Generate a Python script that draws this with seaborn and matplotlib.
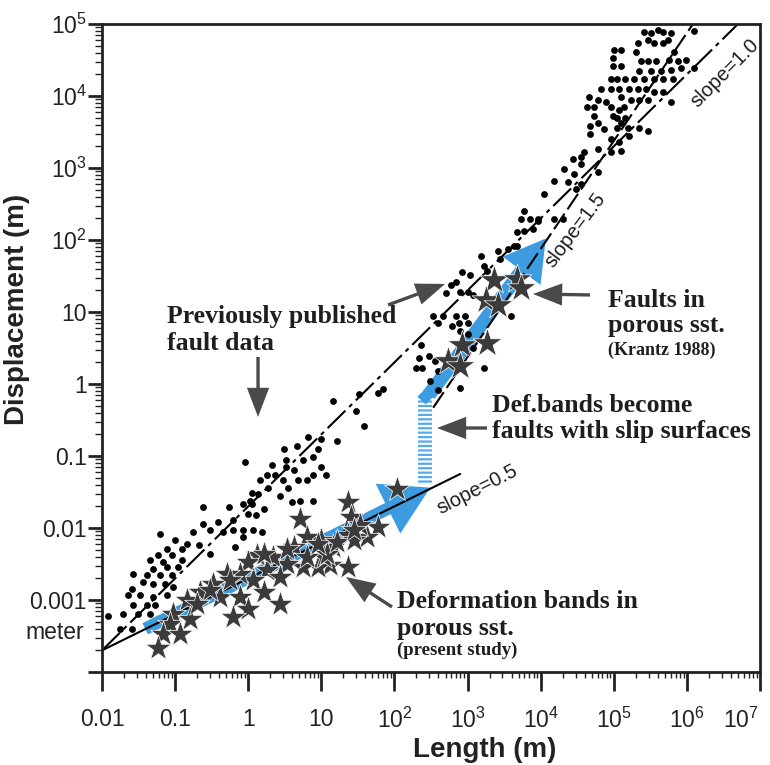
import numpy as np
import pandas as pd
import seaborn as sns
import matplotlib.pyplot as plt
import matplotlib.transforms as mtransforms
from matplotlib.ticker import FixedLocator, LogLocator, NullFormatter

# values, stored as log10(metres)
small_fault_logL = [1.16, 1.52, 1.78, 1.85, 1.47, 1.58, 1.22, 0.82, 0.99, 0.95, 0.67, 0.49,
                    0.51, 0.75, 0.89, 0.99, 1.07, 0.89, 0.81, 0.68, 0.62, 0.51, 0.33, -0.04,
                    0.37, 0.26, 0.16, 0.47, 0.55, 0.44, 0.27, 0.05, 0.14, -0.07, 0.05, 0.03,
                    0.21, 0.10, -0.01, -0.21, -0.27, -0.62, -0.42, -0.62, -0.75, -0.52, -0.34,
                    -0.21, -0.07, 0.07, 0.19, 0.60, 0.71, 0.88, -0.52, -0.18, -0.07, -1.21,
                    -1.00, -0.84, -0.68, -1.11, -0.90, -1.23, -1.04, -0.90, -1.16, -1.34,
                    -1.30, -1.11, -0.96, -1.58, -1.38, -1.21, -1.04, -1.44, -1.30, -1.14,
                    -1.03, -1.59, -1.48, -1.30, -1.11, -1.64, -1.38, -1.27, -1.58, -1.71,
                    -1.51, -1.34, -1.92, -1.75, -1.59]
small_fault_logD = [-0.24, -0.14, -0.12, -0.07, -0.37, -0.58, -0.79, -0.73, -0.76, -0.91, -0.86,
                    -0.91, -1.05, -1.05, -1.01, -1.16, -1.27, -1.27, -1.34, -1.34, -1.19, -1.16,
                    -1.12, -1.09, -1.26, -1.26, -1.34, -1.33, -1.44, -1.55, -1.44, -1.51, -1.53,
                    -1.67, -1.67, -1.62, -1.74, -1.82, -1.81, -1.89, -1.71, -1.71, -1.92, -1.95,
                    -2.06, -2.03, -2.06, -2.03, -2.03, -2.03, -2.06, -1.64, -1.62, -1.62, -2.36,
                    -2.27, -2.13, -2.09, -2.17, -2.22, -2.24, -2.29, -2.29, -2.38, -2.38, -2.44,
                    -2.47, -2.44, -2.57, -2.54, -2.54, -2.64, -2.65, -2.65, -2.65, -2.75, -2.78,
                    -2.78, -2.82, -2.85, -2.93, -2.96, -2.93, -2.93, -3.07, -3.07, -3.07, -3.20,
                    -3.20, -3.19, -3.22, -3.41, -3.41]

large_fault_logL = [5.41, 5.51, 5.60, 5.68, 5.78, 6.10, 5.47, 5.33, 5.55, 5.67, 5.74, 5.82, 5.75,
                    5.88, 5.99, 5.00, 5.10, 5.30, 4.99, 4.99, 5.10, 5.37, 5.47, 5.58, 5.34, 5.51,
                    5.64, 5.78, 5.92, 6.10, 4.96, 5.05, 5.16, 5.27, 5.41, 5.55, 5.68, 5.81, 4.82,
                    4.96, 5.07, 5.21, 5.33, 5.44, 5.55, 5.68, 4.66, 4.78, 4.89, 5.10, 5.23, 5.34,
                    5.47, 5.78, 4.64, 4.73, 4.96, 5.07, 5.14, 4.73, 4.99, 5.05, 5.16, 4.78, 5.10,
                    4.68, 4.86, 5.05, 5.19, 5.34, 5.47, 4.68, 5.21, 4.96, 4.79, 4.96, 5.10, 5.07,
                    4.78, 4.55, 4.44, 4.55, 4.59, 4.32, 4.45, 4.55, 4.18, 4.37, 4.48, 4.04, 3.77,
                    3.73, 3.86, 3.96, 3.68, 3.77, 3.90, 3.97, 4.18, 4.30, 3.68, 3.41, 3.55, 3.63,
                    3.45, 3.18, 3.22, 3.27, 2.93, 3.04, 2.84, 2.90, 3.00, 3.07, 2.70, 2.77, 2.53,
                    2.59, 2.66, 2.84, 2.97, 2.88, 3.01, 2.79, 2.90, 3.01, 3.07, 2.93, 2.36, 2.33,
                    2.47, 2.56, 2.29, 2.38, 3.22, 3.59, 2.60, 2.49, 2.59, 2.90]
large_fault_logD = [4.89, 4.88, 4.92, 4.89, 4.88, 4.90, 4.78, 4.74, 4.74, 4.74, 4.78, 4.61, 4.50,
                    4.48, 4.50, 4.64, 4.64, 4.61, 4.53, 4.41, 4.41, 4.48, 4.48, 4.48, 4.34, 4.34,
                    4.34, 4.36, 4.39, 4.39, 4.23, 4.23, 4.23, 4.23, 4.23, 4.23, 4.23, 4.23, 4.09,
                    4.09, 4.09, 4.09, 4.09, 4.09, 4.06, 4.06, 3.99, 3.95, 3.92, 3.98, 3.95, 3.95,
                    3.95, 3.92, 3.85, 3.84, 3.84, 3.81, 3.85, 3.72, 3.72, 3.70, 3.70, 3.63, 3.63,
                    3.58, 3.54, 3.56, 3.56, 3.56, 3.51, 3.47, 3.44, 3.40, 3.26, 3.22, 3.23, 3.36,
                    2.94, 3.05, 3.12, 3.15, 3.22, 2.98, 2.91, 2.78, 2.82, 2.80, 2.71, 2.64, 2.40,
                    2.29, 2.29, 2.27, 2.11, 2.13, 2.15, 2.29, 2.29, 2.29, 1.92, 1.84, 1.88, 1.91,
                    1.74, 1.78, 1.64, 1.57, 1.56, 1.51, 1.42, 1.28, 1.28, 1.23, 1.26, 1.37, 0.94,
                    0.84, 0.94, 0.94, 0.94, 0.84, 0.84, 0.80, 0.73, 0.70, 0.50, 0.57, 0.54, 0.36,
                    0.39, 0.32, 0.22, 0.22, 0.22, 0.94, 0.18, 0.04, -0.08, -0.06]

band_logL = [2.04, 1.37, 0.71, 1.40, 1.77, 1.63, 1.36, 0.99, 0.81, 0.62, 1.16, 1.36, 1.12, 0.95,
             0.75, 0.53, 0.34, 0.12, -0.01, 0.26, 0.44, 0.07, -0.11, -0.29, -0.48, -0.66, -0.38,
             -0.11, 0.21, 0.44, -0.01, -0.21, -0.84, -1.03, -0.79, -1.07, -1.16, -0.93, -1.23,
             1.03, 1.44, 1.53, 0.21, 0.53, 0.81, 1.08, 0.95, 1.22, 1.44, -0.25, -0.52, -0.70]
band_logD = [-1.46, -1.64, -1.88, -1.85, -1.99, -2.13, -2.10, -2.17, -2.13, -2.27, -2.27, -2.54,
             -2.51, -2.54, -2.54, -2.50, -2.40, -2.38, -2.47, -2.58, -2.68, -2.72, -2.64, -2.64,
             -2.78, -2.89, -2.96, -2.96, -2.89, -3.05, -3.12, -3.23, -3.00, -3.19, -3.27, -3.33,
             -3.47, -3.47, -3.67, -2.40, -2.17, -1.96, -2.36, -2.29, -2.40, -2.36, -2.22, -2.20,
             -2.03, -2.72, -2.86, -3.05]

krantz_logL = [3.36, 3.68, 3.73, 3.25, 3.42, 2.93, 3.27, 2.73, 2.90]
krantz_logD = [1.44, 1.46, 1.33, 1.16, 1.09, 0.54, 0.57, 0.32, 0.25]

# reference power laws D = c * L^n  (log10 c, exponent, log10 L range)
laws = {"slope=1.0": (-1.70, 1.0, (-2.0, 6.75)),
        "slope=1.5": (-4.125, 1.5, (2.53, 6.2)),
        "slope=0.5": (-2.70, 0.5, (-2.0, 2.90))}

# trend arrows of the deformation history (log10 L, log10 D)
band_trend = [(-1.41, -3.40), (2.49, -1.44)]
jump_logL = 2.42
jump_logD = [-0.17, -1.41]
fault_trend = [(2.47, -0.15), (4.07, 2.02)]

x_ticks = [0.01, 0.1, 1, 10, 1e2, 1e3, 1e4, 1e5, 1e6, 1e7]
x_labels = ["0.01", "0.1", "1", "10"] + [r"$\mathregular{10^{%d}}$" % k for k in range(2, 8)]
y_ticks = [1e-4, 1e-3, 0.01, 0.1, 1, 10, 1e2, 1e3, 1e4, 1e5]
y_labels = ["", "0.001", "0.01", "0.1", "1", "10"] + [r"$\mathregular{10^{%d}}$" % k for k in range(2, 6)]

sns.set_style("ticks")
plt.rcParams["font.family"] = ["Liberation Sans", "DejaVu Sans"]
plt.rcParams["mathtext.fontset"] = "custom"
plt.rcParams["mathtext.rm"] = "Liberation Sans"

BLUE = "#3d9be0"
GREY = "#4a4a4a"
INK = "#1e1e1e"
SERIF = ["Liberation Serif", "DejaVu Serif"]

dots = pd.DataFrame({"L": 10 ** np.array(small_fault_logL + large_fault_logL),
                     "D": 10 ** np.array(small_fault_logD + large_fault_logD)})
bands = pd.DataFrame({"L": 10 ** np.array(band_logL), "D": 10 ** np.array(band_logD)})
krantz = pd.DataFrame({"L": 10 ** np.array(krantz_logL), "D": 10 ** np.array(krantz_logD)})

fig = plt.figure(figsize=(7.7, 7.65), dpi=100)
ax = fig.add_axes([0.1325, 0.1216, 0.8545, 0.8471])
ax.set_xscale("log")
ax.set_yscale("log")
ax.set_xlim(0.01, 1e7)
ax.set_ylim(1e-4, 1e5)

# blue trend arrows
def blue_arrow(p0, p1, tail, hw, hl):
    ax.annotate("", xy=(10 ** p1[0], 10 ** p1[1]), xytext=(10 ** p0[0], 10 ** p0[1]),
                arrowprops=dict(arrowstyle="simple,head_length=%s,head_width=%s,tail_width=%s" % (hl, hw, tail),
                                color=BLUE, lw=0, shrinkA=0, shrinkB=0, mutation_scale=10),
                zorder=1)

blue_arrow(band_trend[0], band_trend[1], 0.9, 4.0, 3.4)
blue_arrow(fault_trend[0], fault_trend[1], 1.0, 3.4, 2.9)
ax.plot([10 ** jump_logL] * 2, 10 ** np.array(jump_logD), color="#55aaea", lw=10,
        dashes=(0.16, 0.16), solid_capstyle="butt", dash_capstyle="butt", zorder=1)
ax.plot([10 ** jump_logL], [10 ** jump_logD[0]], marker="D", ms=7, color=BLUE, zorder=1)

# power-law reference lines
styles = {"slope=1.0": (0, (12, 2.5, 2, 2.5)), "slope=1.5": (0, (9, 2.5)), "slope=0.5": "-"}
for name, (logc, n, (l0, l1)) in laws.items():
    lg = np.array([l0, l1])
    sns.lineplot(x=10 ** lg, y=10 ** (logc + n * lg), ax=ax, color="black", lw=1.5,
                 linestyle=styles[name], zorder=2)

sns.scatterplot(data=dots, x="L", y="D", ax=ax, color="black", s=24, linewidth=0, zorder=3)
sns.scatterplot(data=bands, x="L", y="D", ax=ax, marker="*", color="#3b3b3b", s=380,
                edgecolor="white", linewidth=0.5, zorder=4)
sns.scatterplot(data=krantz, x="L", y="D", ax=ax, marker="*", color="#3b3b3b", s=480,
                edgecolor="white", linewidth=0.5, zorder=4)

# axes styling
for sp in ax.spines.values():
    sp.set_linewidth(2)
    sp.set_color("#222222")
ax.xaxis.set_major_locator(FixedLocator(x_ticks))
ax.set_xticklabels(x_labels)
ax.yaxis.set_major_locator(FixedLocator(y_ticks))
ax.set_yticklabels(y_labels)
ax.xaxis.set_minor_locator(LogLocator(base=10, subs=np.arange(2, 10), numticks=20))
ax.yaxis.set_minor_locator(LogLocator(base=10, subs=np.arange(2, 10), numticks=20))
ax.xaxis.set_minor_formatter(NullFormatter())
ax.yaxis.set_minor_formatter(NullFormatter())
ax.tick_params(axis="x", which="major", length=14, width=2, pad=12, labelsize=16.5, colors="#222222")
ax.tick_params(axis="x", which="minor", length=4, width=1, colors="#222222")
ax.tick_params(axis="y", which="major", length=10, width=2, pad=1, labelsize=16.5, colors="#222222")
ax.tick_params(axis="y", which="minor", length=5, width=1, colors="#222222")
# last x label sits left of its tick in the original
last = ax.get_xticklabels()[-1]
last.set_transform(last.get_transform() + mtransforms.ScaledTranslation(-14 / 72, 0, fig.dpi_scale_trans))

ax.set_xlabel("Length (m)", fontsize=20, fontweight="bold", color="#222222")
ax.set_ylabel("Displacement (m)", fontsize=20, fontweight="bold", color="#222222")
ax.xaxis.set_label_coords(0.582, -0.100)
ax.yaxis.set_label_coords(-0.11, 0.56)

ax.text(-0.0714, 0.0602, "meter", transform=ax.transAxes, fontsize=16.5, ha="center",
        va="center", color="#222222")

# slope labels
slope_text = {"slope=1.0": (0.947, 0.924, 45), "slope=1.5": (0.719, 0.682, 53),
              "slope=0.5": (0.571, 0.281, 27)}
for name, (tx, ty, rot) in slope_text.items():
    ax.text(tx, ty, name, transform=ax.transAxes, rotation=rot, rotation_mode="anchor",
            ha="center", va="center", fontsize=14.5, color=INK)

# annotations
def label(x, lines):
    for y, txt, size in lines:
        ax.text(x, y, txt, transform=ax.transAxes, family=SERIF, fontweight="bold",
                fontsize=size, color=INK, ha="left", va="baseline")

label(0.0988, [(0.5386, "Previously published", 18.5), (0.4969, "fault data", 18.5)])
label(0.769, [(0.5633, "Faults in", 18.5), (0.5247, "porous sst.", 18.5), (0.4892, "(Krantz 1988)", 13)])
label(0.5927, [(0.4012, "Def.bands become", 18.5), (0.3611, "faults with slip surfaces", 18.5)])
label(0.4483, [(0.0988, "Deformation bands in", 18.5), (0.0571, "porous sst.", 18.5),
               (0.0262, "(present study)", 13.5)])

pointers = [((0.4347, 0.5664), (0.5213, 0.5988)),
            ((0.2371, 0.4861), (0.2371, 0.3935)),
            ((0.7416, 0.5818), (0.6550, 0.5833)),
            ((0.5851, 0.3765), (0.5091, 0.3765)),
            ((0.4407, 0.1003), (0.3708, 0.1466))]
for tail, tip in pointers:
    ax.annotate("", xy=tip, xytext=tail, xycoords="axes fraction", textcoords="axes fraction",
                arrowprops=dict(arrowstyle="simple,head_length=2.1,head_width=1.6,tail_width=0.24",
                                color=GREY, lw=0, shrinkA=0, shrinkB=0, mutation_scale=10),
                zorder=5)

fig.savefig("out.png", dpi=100)
